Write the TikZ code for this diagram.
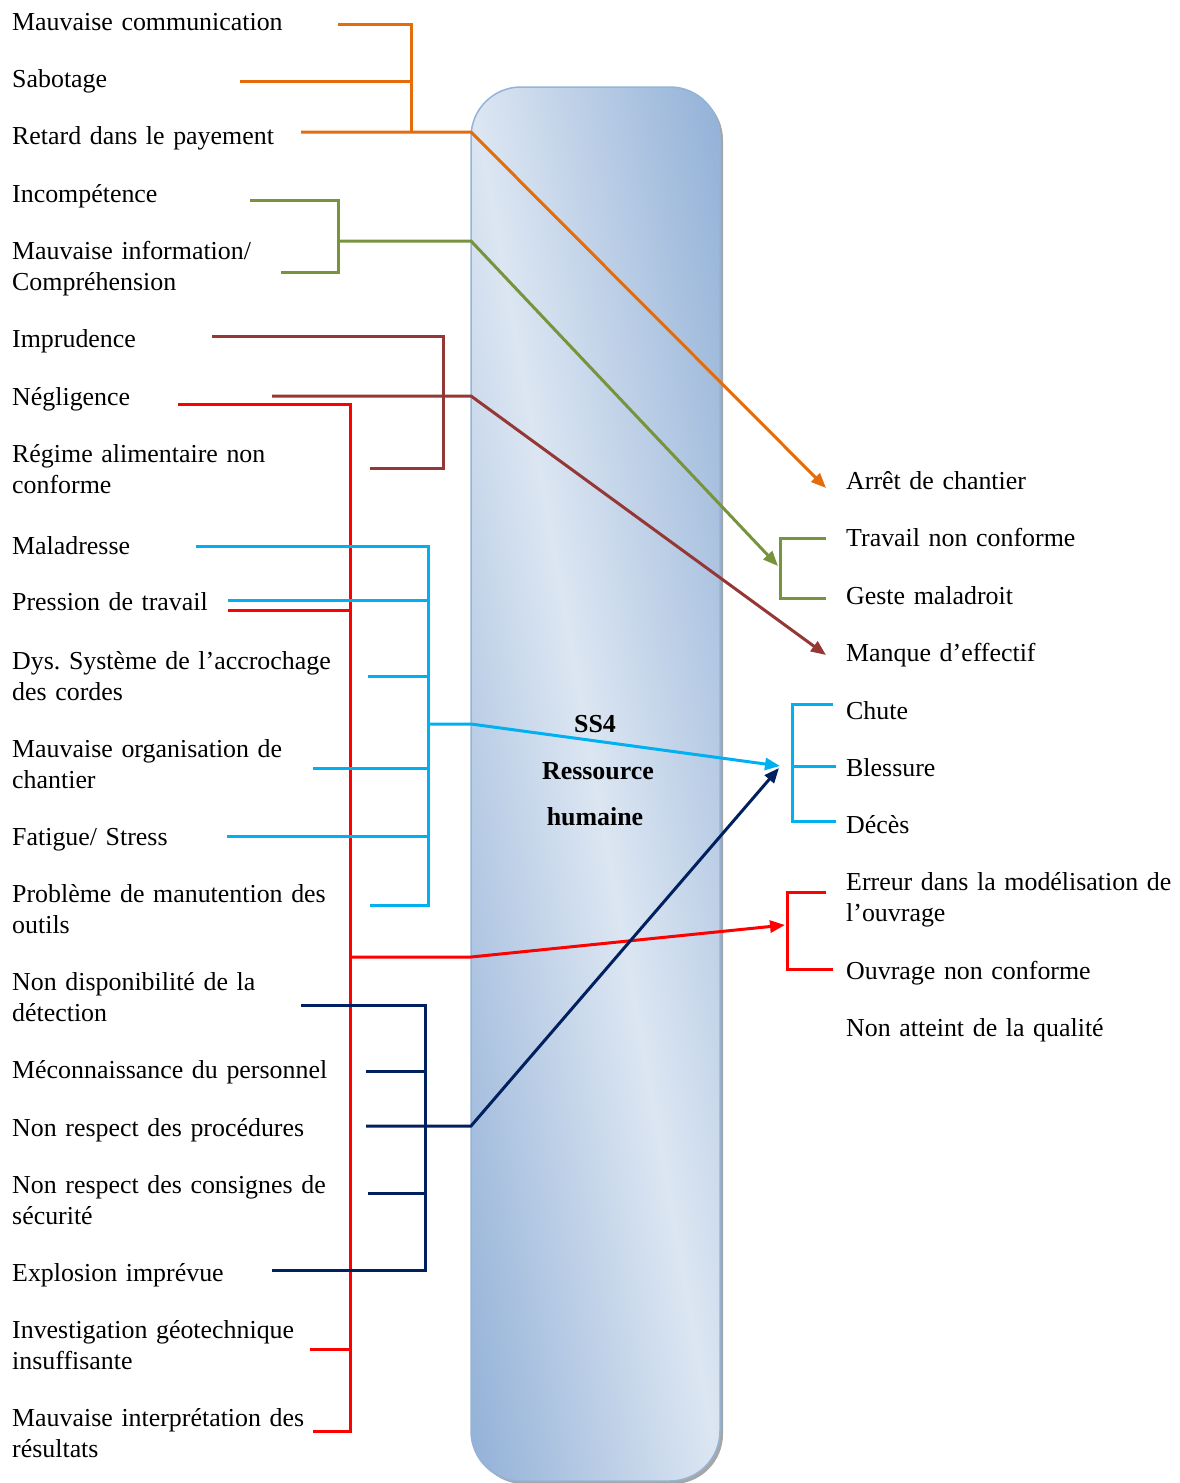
\documentclass[tikz,border=0pt]{standalone}
\usepackage{fontspec}
\setmainfont{Liberation Serif}
\usetikzlibrary{arrows.meta}
\frenchspacing
\definecolor{cOr}{HTML}{E46C0A}
\definecolor{cGr}{HTML}{77933C}
\definecolor{cBr}{HTML}{953735}
\definecolor{cRe}{HTML}{FF0000}
\definecolor{cCy}{HTML}{00B0F0}
\definecolor{cNv}{HTML}{002060}
\definecolor{cBorder}{HTML}{95B3D7}
\pgfdeclarefunctionalshading{ssshade}{\pgfpointorigin}{\pgfpoint{249pt}{1394pt}}{}{
 1388.76 div exch 248.07 div add 1 sub abs
 dup 1 gt {pop 1} if
 dup 0.290 mul 0.863 exch sub exch dup 0.210 mul 0.902 exch sub exch 0.105 mul 0.949 exch sub
}
\begin{document}
\begin{tikzpicture}[x=1pt,y=-1pt,
  lbl/.style={anchor=base west, inner sep=0pt, text width=500pt, align=left, font=\fontsize{25.9}{31}\selectfont},
  ctr/.style={anchor=base, inner sep=0pt, font=\fontsize{25.9}{31}\selectfont\bfseries},
  ln/.style={line width=3pt},
  arr/.style={ln, -{Triangle[length=15pt,width=12pt]}}
]
\useasboundingbox (0,0) rectangle (1179,1483);
% central block
\fill[black!35, rounded corners=50pt] (474,90) rectangle (723,1484);
\begin{scope}
\clip[rounded corners=50pt] (471,87) rectangle (720,1481);
\node[inner sep=0pt, outer sep=0pt, anchor=south west] (ssfill) at (471,1481) {\pgfuseshading{ssshade}};
\end{scope}
\draw[cBorder, line width=1.5pt, rounded corners=50pt] (471,87) rectangle (720,1481);
\node[ctr] (c1) at (595,732) {SS4};
\node[ctr] (c2) at (598,779) {Ressource};
\node[ctr] (c3) at (595,825) {humaine};
% left labels
\node[lbl] (l1) at (12,30) {Mauvaise communication};
\node[lbl] (l2) at (12,87) {Sabotage};
\node[lbl] (l3) at (12,144) {Retard dans le payement};
\node[lbl] (l4) at (12,202) {Incompétence};
\node[lbl] (l5) at (12,259) {Mauvaise information/\\Compréhension};
\node[lbl] (l6) at (12,347) {Imprudence};
\node[lbl] (l7) at (12,405) {Négligence};
\node[lbl] (l8) at (12,462) {Régime alimentaire non\\conforme};
\node[lbl] (l9) at (12,554) {Maladresse};
\node[lbl] (l10) at (12,610) {Pression de travail};
\node[lbl] (l11) at (12,669) {Dys. Système de l’accrochage\\des cordes};
\node[lbl] (l12) at (12,757) {Mauvaise organisation de\\chantier};
\node[lbl] (l13) at (12,845) {Fatigue/ Stress};
\node[lbl] (l14) at (12,902) {Problème de manutention des\\outils};
\node[lbl] (l15) at (12,990) {Non disponibilité de la\\détection};
\node[lbl] (l16) at (12,1078) {Méconnaissance du personnel};
\node[lbl] (l17) at (12,1136) {Non respect des procédures};
\node[lbl] (l18) at (12,1193) {Non respect des consignes de\\sécurité};
\node[lbl] (l19) at (12,1281) {Explosion imprévue};
\node[lbl] (l20) at (12,1338) {Investigation géotechnique\\insuffisante};
\node[lbl] (l21) at (12,1426) {Mauvaise interprétation des\\résultats};
% right labels
\node[lbl] (r1) at (846,489) {Arrêt de chantier};
\node[lbl] (r2) at (846,546) {Travail non conforme};
\node[lbl] (r3) at (846,604) {Geste maladroit};
\node[lbl] (r4) at (846,661) {Manque d’effectif};
\node[lbl] (r5) at (846,719) {Chute};
\node[lbl] (r6) at (846,776) {Blessure};
\node[lbl] (r7) at (846,833) {Décès};
\node[lbl] (r8) at (846,890) {Erreur dans la modélisation de\\l’ouvrage};
\node[lbl] (r9) at (846,979) {Ouvrage non conforme};
\node[lbl] (r10) at (846,1036) {Non atteint de la qualité};
% ---------- orange
\coordinate (oa) at (338,24); \coordinate (ob) at (240,81); \coordinate (oc) at (301,132);
\coordinate (oj1) at (411,24); \coordinate (oj2) at (411,81); \coordinate (oj3) at (411,132);
\coordinate (oe) at (471,132); \coordinate (ot) at (826,488);
\draw[ln,cOr] (oa) -- (oj1) -- (oj3);
\draw[ln,cOr] (ob) -- (oj2);
\draw[arr,cOr] (oc) -- (oe) -- (ot);
% ---------- green
\coordinate (ga) at (250,200); \coordinate (gb) at (281,272);
\coordinate (gj1) at (338,200); \coordinate (gj2) at (338,272); \coordinate (gm) at (338,241);
\coordinate (ge) at (471,241); \coordinate (gt) at (778,566);
\draw[ln,cGr] (ga) -- (gj1) -- (gj2) -- (gb);
\draw[arr,cGr] (gm) -- (ge) -- (gt);
\coordinate (gr1) at (826,538); \coordinate (gr2) at (780,538); \coordinate (gr3) at (780,598); \coordinate (gr4) at (826,598);
\draw[ln,cGr] (gr1) -- (gr2) -- (gr3) -- (gr4);
% ---------- brown
\coordinate (ba) at (212,336); \coordinate (bj1) at (443,336); \coordinate (bj2) at (443,468); \coordinate (bc) at (370,468);
\coordinate (bb) at (272,396); \coordinate (be) at (471,396); \coordinate (bt) at (826,655);
\draw[ln,cBr] (ba) -- (bj1) -- (bj2) -- (bc);
\draw[arr,cBr] (bb) -- (be) -- (bt);
% ---------- red
\coordinate (ra) at (178,404); \coordinate (rj1) at (350,404); \coordinate (rj5) at (350,1431); \coordinate (rf) at (313,1431);
\coordinate (rb) at (228,610); \coordinate (rj2) at (350,610);
\coordinate (rc) at (310,1349); \coordinate (rj4) at (350,1349);
\coordinate (rj3) at (350,957); \coordinate (re) at (471,957); \coordinate (rt) at (785,925);
\draw[ln,cRe] (ra) -- (rj1) -- (rj5) -- (rf);
\draw[ln,cRe] (rb) -- (rj2);
\draw[ln,cRe] (rc) -- (rj4);
\draw[arr,cRe] (rj3) -- (re) -- (rt);
\coordinate (rr1) at (826,892); \coordinate (rr2) at (787,892); \coordinate (rr3) at (787,969); \coordinate (rr4) at (833,969);
\draw[ln,cRe] (rr1) -- (rr2) -- (rr3) -- (rr4);
% ---------- cyan
\coordinate (ca) at (196,546); \coordinate (cj1) at (428,546);
\coordinate (cb) at (228,600); \coordinate (cj2) at (428,600);
\coordinate (cc) at (368,676); \coordinate (cj3) at (428,676);
\coordinate (cd) at (313,768); \coordinate (cj4) at (428,768);
\coordinate (cf) at (227,836); \coordinate (cj5) at (428,836);
\coordinate (cg) at (370,905); \coordinate (cj6) at (428,905);
\coordinate (cm) at (428,724); \coordinate (ce) at (471,724); \coordinate (ct) at (780,766);
\draw[ln,cCy] (ca) -- (cj1) -- (cj6) -- (cg);
\draw[ln,cCy] (cb) -- (cj2);
\draw[ln,cCy] (cc) -- (cj3);
\draw[ln,cCy] (cd) -- (cj4);
\draw[ln,cCy] (cf) -- (cj5);
\draw[arr,cCy] (cm) -- (ce) -- (ct);
\coordinate (cr1) at (833,704); \coordinate (cr2) at (792,704); \coordinate (cr3) at (792,821); \coordinate (cr4) at (836,821);
\coordinate (cr5) at (792,766); \coordinate (cr6) at (836,766);
\draw[ln,cCy] (cr1) -- (cr2) -- (cr3) -- (cr4);
\draw[ln,cCy] (cr5) -- (cr6);
% ---------- navy
\coordinate (na) at (301,1005); \coordinate (nj1) at (425,1005);
\coordinate (nb) at (366,1071); \coordinate (nj2) at (425,1071);
\coordinate (nd) at (368,1193); \coordinate (nj4) at (425,1193);
\coordinate (nf) at (272,1270); \coordinate (nj5) at (425,1270);
\coordinate (nc) at (366,1126); \coordinate (ne) at (471,1126); \coordinate (nt) at (779,768);
\draw[ln,cNv] (na) -- (nj1) -- (nj5) -- (nf);
\draw[ln,cNv] (nb) -- (nj2);
\draw[ln,cNv] (nd) -- (nj4);
\draw[arr,cNv] (nc) -- (ne) -- (nt);
\end{tikzpicture}
\end{document}
